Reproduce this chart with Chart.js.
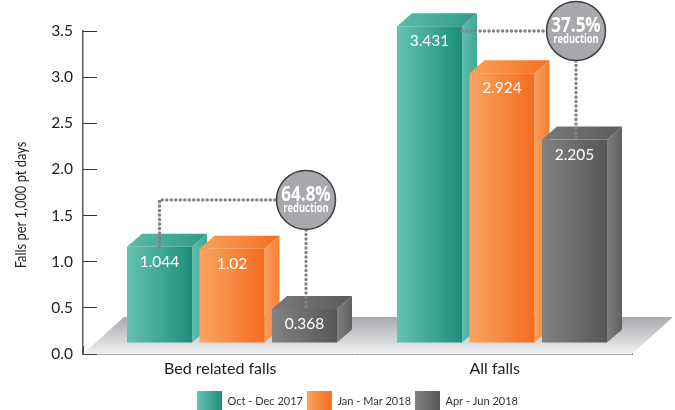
<!DOCTYPE html>
<html lang="en">
<head>
    <meta charset="UTF-8">
    <title>Falls per 1,000 pt days</title>
    <script src="https://cdn.jsdelivr.net/npm/chart.js"></script>
    <style>
        html, body { margin: 0; padding: 0; background: #fff; }
        #wrap { width: 675px; height: 410px; position: relative; overflow: hidden; }
    </style>
</head>
<body>
    <div id="wrap"><canvas id="fallsChart" width="675" height="410"></canvas></div>

    <script>
        const categories = ['Bed related falls', 'All falls'];
        const seriesNames = ['Oct - Dec 2017', 'Jan - Mar 2018', 'Apr - Jun 2018'];
        const octDec = [1.044, 3.431];
        const janMar = [1.02, 2.924];
        const aprJun = [0.368, 2.205];
        const reductions = ['64.8%', '37.5%'];
        const reductionHeights = [1.67, 3.5]; // value where each circle sits on the y axis
        const yTitle = 'Falls per 1,000 pt days';

        // front, side and top colours for each series, light edge first
        const palette = [
            { front: ['#65c2b2', '#1f8d7c'], side: ['#60bdad', '#3fa896'], top: ['#5dbbab', '#2f9a88'] },
            { front: ['#faa460', '#f36c1f'], side: ['#fb9e5a', '#f57f33'], top: ['#f9a05c', '#f3701f'] },
            { front: ['#828282', '#575757'], side: ['#7f7f7f', '#5f5f5f'], top: ['#7a7a7a', '#5b5b5b'] }
        ];

        const depthX = 15;
        const depthY = 13;
        const floorLift = 11; // bars stand on the floor, a little above the axis
        const floorDepthX = 41;
        const floorDepthY = 37;

        function hGradient(ctx, x0, x1, colors) {
            const g = ctx.createLinearGradient(x0, 0, x1, 0);
            g.addColorStop(0, colors[0]);
            g.addColorStop(1, colors[1]);
            return g;
        }

        function fillPoly(ctx, pts, fill) {
            ctx.beginPath();
            pts.forEach(([x, y], i) => (i ? ctx.lineTo(x, y) : ctx.moveTo(x, y)));
            ctx.closePath();
            ctx.fillStyle = fill;
            ctx.fill();
        }

        function drawFloor(chart) {
            const { ctx, chartArea: a } = chart;
            const g = ctx.createLinearGradient(0, a.bottom - floorDepthY, 0, a.bottom);
            g.addColorStop(0, '#a7a9ac');
            g.addColorStop(1, '#f0f1f2');
            fillPoly(ctx, [
                [a.left, a.bottom],
                [a.left + floorDepthX, a.bottom - floorDepthY],
                [a.right + floorDepthX, a.bottom - floorDepthY],
                [a.right, a.bottom]
            ], g);
        }

        function dottedLine(ctx, pts) {
            ctx.save();
            ctx.beginPath();
            pts.forEach(([x, y], i) => (i ? ctx.lineTo(x, y) : ctx.moveTo(x, y)));
            ctx.strokeStyle = '#808285';
            ctx.lineWidth = 3.4;
            ctx.lineCap = 'round';
            ctx.setLineDash([0.1, 4.4]);
            ctx.stroke();
            ctx.restore();
        }

        // the reference text is a narrower face, so squeeze ours to the same width
        function squeezedText(ctx, text, x, y, font, squeeze) {
            ctx.save();
            ctx.translate(x, y);
            ctx.scale(squeeze, 1);
            ctx.font = font;
            ctx.fillText(text, 0, 0);
            ctx.restore();
        }

        function drawCallouts(chart) {
            const { ctx } = chart;
            const yScale = chart.scales.y;
            const first = chart.getDatasetMeta(0).data;
            const last = chart.getDatasetMeta(2).data;
            const r = 30;
            categories.forEach((c, i) => {
                const cx = last[i].x + 1.5;
                const cy = yScale.getPixelForValue(reductionHeights[i]);
                if (i === 0) {
                    dottedLine(ctx, [[first[i].x, first[i].y - floorLift], [first[i].x, cy], [cx - r, cy]]);
                } else {
                    dottedLine(ctx, [[first[i].x + first[i].width / 2, cy], [cx - r, cy]]);
                }
                dottedLine(ctx, [[cx, cy + r], [cx, last[i].y - floorLift]]);

                ctx.beginPath();
                ctx.arc(cx, cy, r - 0.5, 0, Math.PI * 2);
                ctx.fillStyle = '#a7a9ac';
                ctx.fill();
                ctx.lineWidth = 1.5;
                ctx.strokeStyle = '#3f3f41';
                ctx.stroke();

                ctx.fillStyle = '#fff';
                ctx.textAlign = 'center';
                ctx.textBaseline = 'middle';
                squeezedText(ctx, reductions[i], cx, cy - 5, 'bold 21px "Open Sans", sans-serif', 0.81);
                squeezedText(ctx, 'reduction', cx, cy + 8.5, 'bold 12px "Open Sans", sans-serif', 0.78);
            });
        }

        const boxes3d = {
            id: 'boxes3d',
            afterLayout(chart) {
                const a = chart.chartArea;
                // bar groups are not quite centred on the axis categories
                const x2 = chart.scales.x2;
                x2.left = a.left + 14;
                x2.right = a.right + 5;
                x2.configure();
                // top of the value axis, the layout leaves it a little low
                const y = chart.scales.y;
                y.top = 31;
                y.configure();
            },
            beforeDraw(chart) {
                const ctx = chart.ctx;
                chart.legend.legendHitBoxes.forEach((box, i) => {
                    chart.legend.legendItems[i].fillStyle = hGradient(ctx, box.left, box.left + 25, palette[i].front);
                });
            },
            beforeDatasetsDraw(chart) {
                const ctx = chart.ctx;
                drawFloor(chart);

                // left series first so each box overlaps the side of the one before
                chart.getSortedVisibleDatasetMetas().forEach((meta) => {
                    const colors = palette[meta.index];
                    ctx.save();
                    ctx.translate(0, -floorLift);
                    meta.data.forEach((bar) => {
                        const l = bar.x - bar.width / 2;
                        const r = bar.x + bar.width / 2;
                        fillPoly(ctx, [[r, bar.y], [r + depthX, bar.y - depthY], [r + depthX, bar.base - depthY], [r, bar.base]],
                            hGradient(ctx, r, r + depthX, colors.side));
                        fillPoly(ctx, [[l, bar.y], [l + depthX, bar.y - depthY], [r + depthX, bar.y - depthY], [r, bar.y]],
                            hGradient(ctx, l, r + depthX, colors.top));
                        bar.options = { ...bar.options, backgroundColor: hGradient(ctx, l, r, colors.front) };
                    });
                    meta.controller.draw();
                    ctx.restore();
                });

                drawCallouts(chart);

                // value labels on the front faces
                ctx.fillStyle = '#fff';
                ctx.textAlign = 'center';
                ctx.textBaseline = 'middle';
                ctx.font = '15.5px Lato, sans-serif';
                chart.getSortedVisibleDatasetMetas().forEach((meta) => {
                    meta.data.forEach((bar, i) => {
                        const value = chart.data.datasets[meta.index].data[i];
                        ctx.fillText(String(value), bar.x, bar.y - floorLift + 15);
                    });
                });

                // axis title sits lower than the middle of the axis
                ctx.save();
                ctx.translate(21, 205);
                ctx.rotate(-Math.PI / 2);
                ctx.fillStyle = '#222';
                squeezedText(ctx, yTitle, 0, 0, '14.5px Lato, sans-serif', 0.89);
                ctx.restore();
                return false;
            }
        };

        new Chart(document.getElementById('fallsChart').getContext('2d'), {
            type: 'bar',
            data: {
                labels: categories,
                datasets: [
                    { label: seriesNames[0], data: octDec, xAxisID: 'x2', backgroundColor: '#1f8d7c' },
                    { label: seriesNames[1], data: janMar, xAxisID: 'x2', backgroundColor: '#f36c1f' },
                    { label: seriesNames[2], data: aprJun, xAxisID: 'x2', backgroundColor: '#575757' }
                ]
            },
            plugins: [boxes3d],
            options: {
                responsive: false,
                animation: false,
                categoryPercentage: 0.8056,
                barPercentage: 0.8966,
                layout: { padding: { top: 28, right: 43, bottom: -12, left: 0 } },
                plugins: {
                    tooltip: { enabled: false },
                    legend: {
                        position: 'bottom',
                        fullSize: false,
                        labels: {
                            boxWidth: 25,
                            boxHeight: 21,
                            padding: 4,
                            color: '#333',
                            font: { family: 'Lato, sans-serif', size: 11 },
                            generateLabels: (chart) => chart.data.datasets.map((d, i) => ({
                                text: d.label,
                                fillStyle: d.backgroundColor,
                                strokeStyle: 'transparent',
                                lineWidth: 0,
                                fontColor: '#333',
                                datasetIndex: i
                            }))
                        }
                    }
                },
                scales: {
                    x: {
                        type: 'category',
                        offset: true,
                        afterFit: (scale) => { scale.height = 33; },
                        border: { color: '#58595b', width: 1.5 },
                        grid: { offset: true, drawOnChartArea: false, tickLength: -8, color: '#333', lineWidth: 1 },
                        ticks: { color: '#222', padding: 13, font: { family: 'Lato, sans-serif', size: 16 }, maxRotation: 0 }
                    },
                    x2: {
                        type: 'category',
                        offset: true,
                        display: false
                    },
                    y: {
                        min: 0,
                        max: 3.5,
                        afterFit: (scale) => { scale.width = 83; },
                        border: { color: '#58595b', width: 1.5 },
                        grid: { drawOnChartArea: false, tickLength: -14, color: '#333', lineWidth: 1 },
                        ticks: {
                            stepSize: 0.5,
                            padding: 24,
                            color: '#222',
                            font: { family: 'Lato, sans-serif', size: 15.5 },
                            callback: (v) => v.toFixed(1)
                        }
                    }
                }
            }
        });
    </script>
</body>
</html>
